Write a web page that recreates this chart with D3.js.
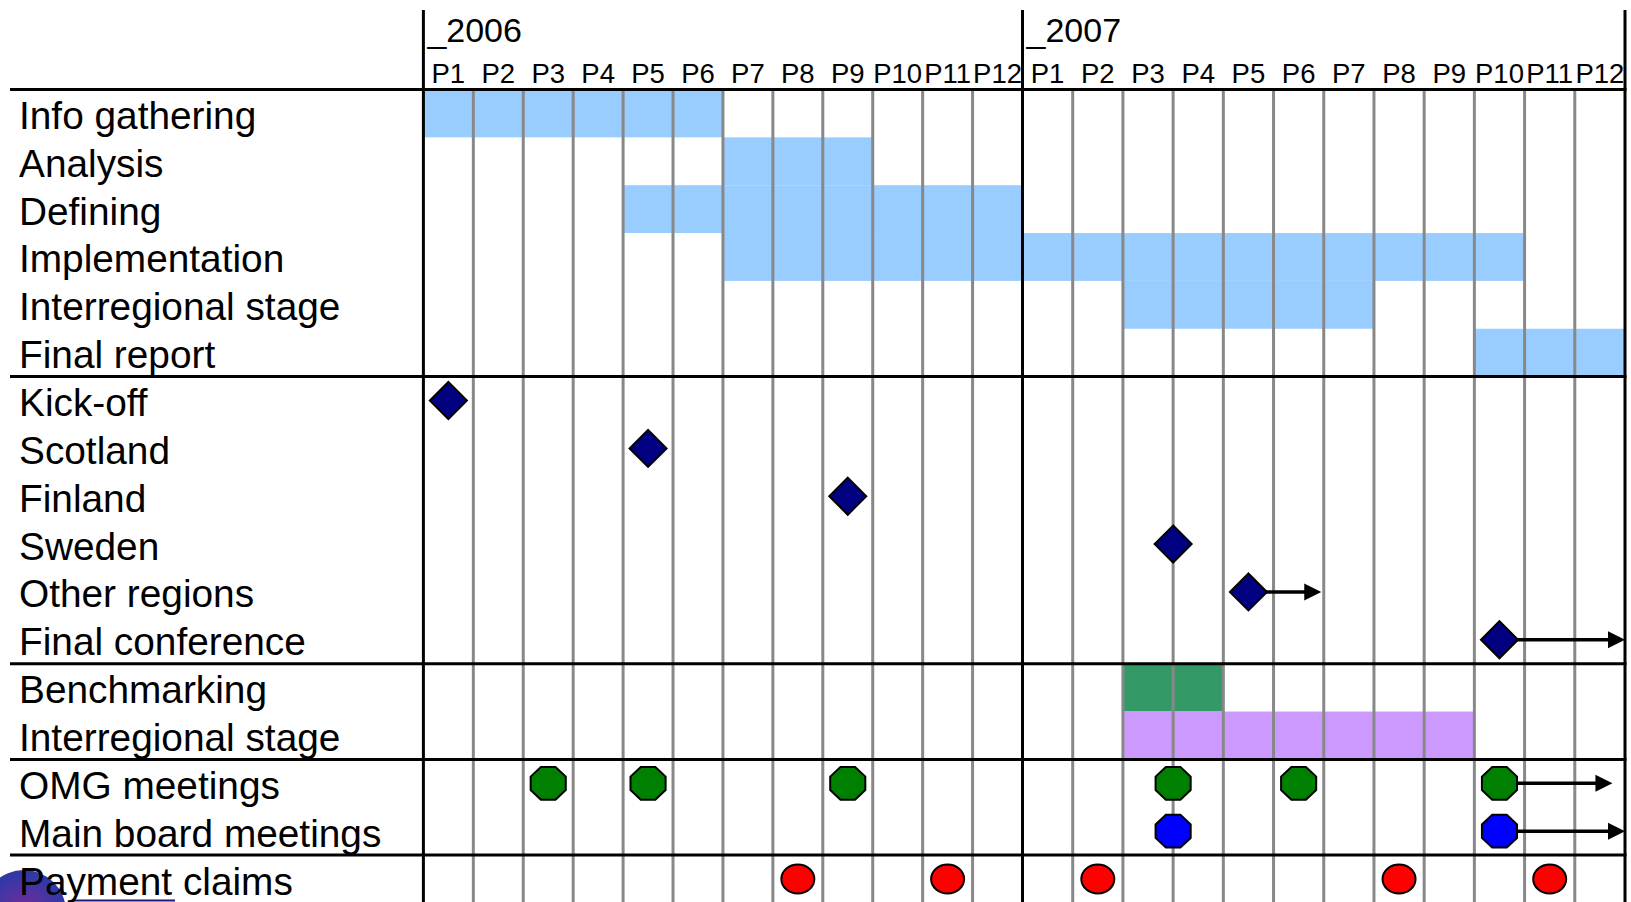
<!DOCTYPE html>
<html>
<head>
<meta charset="utf-8">
<script src="https://cdn.jsdelivr.net/npm/d3@7"></script>
<style>
  body { margin: 0; background: #fff; }
  svg text { font-family: "Liberation Sans", Arial, sans-serif; fill: #000; }
</style>
</head>
<body>
<svg id="gantt"></svg>
<script>
// chart data
var years = ["_2006", "_2007"];
var periods = ["P1", "P2", "P3", "P4", "P5", "P6", "P7", "P8", "P9", "P10", "P11", "P12"];
var rowLabels = ["Info gathering", "Analysis", "Defining", "Implementation", "Interregional stage",
  "Final report", "Kick-off", "Scotland", "Finland", "Sweden", "Other regions", "Final conference",
  "Benchmarking", "Interregional stage", "OMG meetings", "Main board meetings", "Payment claims"];
var sectionBreaks = [6, 12, 14, 16];

// bars: [row, start period, end period] (periods counted from 2006 P1 = 0)
var phaseBars = [[0, 0, 6], [1, 6, 9], [2, 4, 12], [3, 6, 22], [4, 14, 19], [5, 21, 24]];
var benchBars = [[12, 14, 16]];
var stageBars = [[13, 14, 21]];

// milestones: [row, period, arrow end or null]
var milestones = [[6, 0.5, null], [7, 4.5, null], [8, 8.5, null], [9, 15, null],
  [10, 16.5, 17.95], [11, 21.5, 24]];
var omgMeetings = [[14, 2.5, null], [14, 4.5, null], [14, 8.5, null], [14, 15, null],
  [14, 17.5, null], [14, 21.5, 23.75]];
var boardMeetings = [[15, 15, null], [15, 21.5, 24]];
var paymentClaims = [[16, 7.5], [16, 10.5], [16, 13.5], [16, 19.5], [16, 22.5]];

var W = 1631, H = 902;
var svg = d3.select("#gantt").attr("width", W).attr("height", H);

var x = d3.scaleLinear().domain([0, 12, 24]).range([423.4, 1022.5, 1625]);
var y = d3.scaleLinear().domain([0, rowLabels.length]).range([89.5, 89.5 + 47.85 * rowLabels.length]);
var rowH = y(1) - y(0);

// logo peeking in at the bottom left
var grad = svg.append("defs").append("radialGradient").attr("id", "logoGrad");
grad.append("stop").attr("offset", "0%").attr("stop-color", "#7a2a9a");
grad.append("stop").attr("offset", "100%").attr("stop-color", "#2a3aa8");
svg.append("circle").attr("cx", 24).attr("cy", 912).attr("r", 42).attr("fill", "url(#logoGrad)");
svg.append("line").attr("x1", 73).attr("x2", 175).attr("y1", 900.5).attr("y2", 900.5)
  .attr("stroke", "#1a1a7a").attr("stroke-width", 2);

// bars
function drawBars(data, color) {
  svg.append("g").selectAll("rect").data(data).join("rect")
    .attr("x", function (d) { return x(d[1]); })
    .attr("width", function (d) { return x(d[2]) - x(d[1]); })
    .attr("y", function (d) { return y(d[0]); })
    .attr("height", rowH)
    .attr("fill", color);
}
drawBars(phaseBars, "#99ccff");
drawBars(benchBars, "#339966");
drawBars(stageBars, "#cc99ff");

// period gridlines
var grid = d3.range(1, 24).filter(function (p) { return p !== 12; });
svg.append("g").selectAll("line").data(grid).join("line")
  .attr("x1", function (d) { return x(d); }).attr("x2", function (d) { return x(d); })
  .attr("y1", y(0)).attr("y2", H)
  .attr("stroke", "#888").attr("stroke-width", 3);

// year lines + right border
svg.append("g").selectAll("line").data([0, 12, 24]).join("line")
  .attr("x1", function (d) { return x(d); }).attr("x2", function (d) { return x(d); })
  .attr("y1", 10).attr("y2", H)
  .attr("stroke", "#000").attr("stroke-width", 3);

// horizontal rules
svg.append("g").selectAll("line").data([0].concat(sectionBreaks)).join("line")
  .attr("x1", 10).attr("x2", x(24) + 1.5)
  .attr("y1", function (d) { return y(d); }).attr("y2", function (d) { return y(d); })
  .attr("stroke", "#000").attr("stroke-width", 3);

// header
svg.append("g").selectAll("text").data(years).join("text")
  .attr("x", function (d, i) { return x(i * 12) + 4; })
  .attr("y", 42)
  .style("font-size", "34px")
  .text(function (d) { return d; });

var periodTicks = d3.range(24);
svg.append("g").selectAll("text").data(periodTicks).join("text")
  .attr("x", function (d) { return x(d + 0.5); })
  .attr("y", 83)
  .attr("text-anchor", "middle")
  .style("font-size", "27.5px")
  .text(function (d) { return periods[d % 12]; });

// row labels
svg.append("g").selectAll("text").data(rowLabels).join("text")
  .attr("x", 19)
  .attr("y", function (d, i) { return y(i + 0.5) + 15.5; })
  .style("font-size", "38.8px")
  .text(function (d) { return d; });

// arrows
function drawArrows(data, startOffset) {
  var withArrow = data.filter(function (d) { return d[2] != null; });
  var g = svg.append("g");
  g.selectAll("line").data(withArrow).join("line")
    .attr("x1", function (d) { return x(d[1]) + startOffset; })
    .attr("x2", function (d) { return x(d[2]) - 14; })
    .attr("y1", function (d) { return y(d[0] + 0.5); })
    .attr("y2", function (d) { return y(d[0] + 0.5); })
    .attr("stroke", "#000").attr("stroke-width", 3.5);
  g.selectAll("path").data(withArrow).join("path")
    .attr("d", function (d) {
      var tx = x(d[2]), ty = y(d[0] + 0.5);
      return "M" + tx + "," + ty + "L" + (tx - 17) + "," + (ty - 8.5) + "L" + (tx - 17) + "," + (ty + 8.5) + "Z";
    })
    .attr("fill", "#000");
}
drawArrows(milestones, 17);
drawArrows(omgMeetings, 17);
drawArrows(boardMeetings, 17);

// diamonds
svg.append("g").selectAll("path").data(milestones).join("path")
  .attr("transform", function (d) { return "translate(" + x(d[1]) + "," + y(d[0] + 0.5) + ")"; })
  .attr("d", "M0,-18.5L18.5,0L0,18.5L-18.5,0Z")
  .attr("fill", "#000080").attr("stroke", "#000").attr("stroke-width", 2);

// octagons
var r = 19;
var octagon = d3.range(8).map(function (k) {
  var a = Math.PI / 8 + k * Math.PI / 4;
  return [r * Math.cos(a), r * Math.sin(a) * 0.93];
});
var octPath = "M" + octagon.join("L") + "Z";
function drawOctagons(data, color) {
  svg.append("g").selectAll("path").data(data).join("path")
    .attr("transform", function (d) { return "translate(" + x(d[1]) + "," + y(d[0] + 0.5) + ")"; })
    .attr("d", octPath)
    .attr("fill", color).attr("stroke", "#000").attr("stroke-width", 2);
}
drawOctagons(omgMeetings, "#008000");
drawOctagons(boardMeetings, "#0000ff");

// payment claims
svg.append("g").selectAll("ellipse").data(paymentClaims).join("ellipse")
  .attr("cx", function (d) { return x(d[1]); })
  .attr("cy", function (d) { return y(d[0] + 0.5); })
  .attr("rx", 16.5).attr("ry", 14.5)
  .attr("fill", "#ff0000").attr("stroke", "#000").attr("stroke-width", 2);
</script>
</body>
</html>
